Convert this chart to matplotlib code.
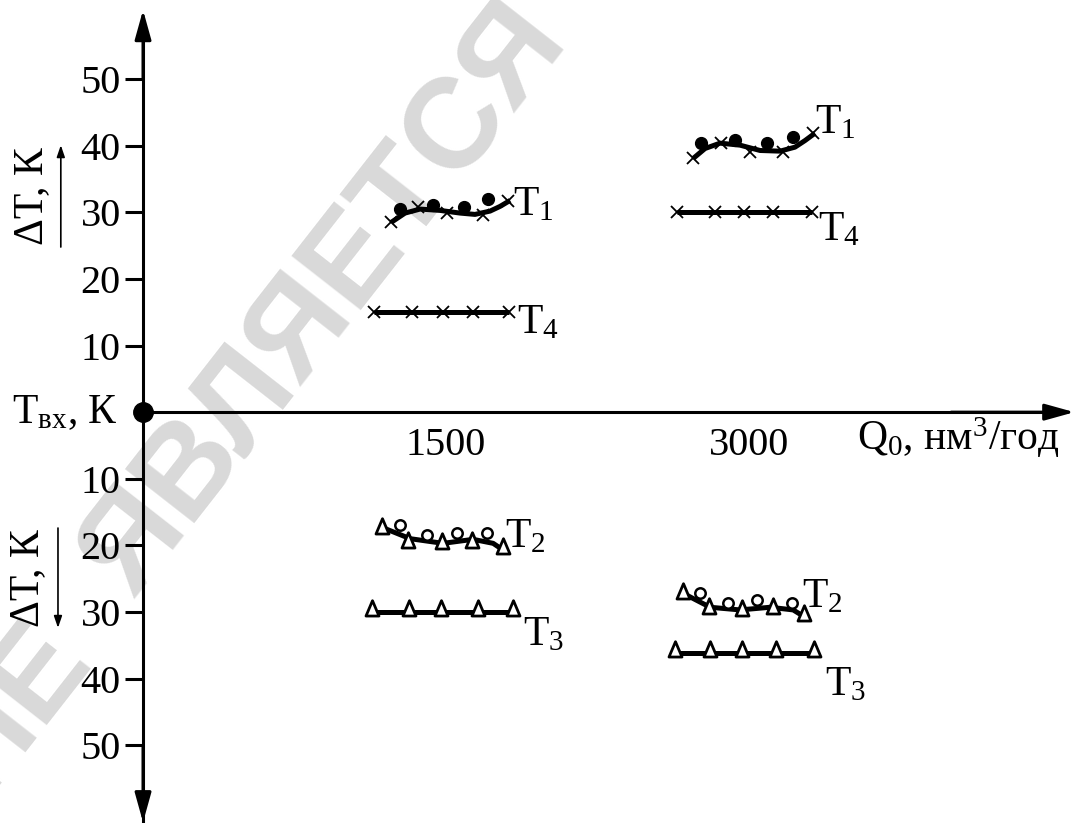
import numpy as np
import matplotlib.pyplot as plt
from matplotlib.path import Path

plt.rcParams['font.family'] = 'Liberation Serif'
plt.rcParams['mathtext.fontset'] = 'custom'
plt.rcParams['mathtext.rm'] = 'Liberation Serif'
plt.rcParams['mathtext.it'] = 'Liberation Serif'

# --- data (x = Q0, y = dT; lower half drawn as negative) ---
# T1 (upper), Q0 = 1500
t1a_cross_x = [1228, 1361, 1505, 1683, 1807]
t1a_cross_y = [28.6, 30.8, 29.9, 29.6, 31.7]
t1a_dot_x = [1272, 1436, 1589, 1708]
t1a_dot_y = [30.5, 31.1, 30.8, 32.0]
t1a_curve_x = [1228, 1297, 1371, 1470, 1569, 1643, 1718, 1767, 1817]
t1a_curve_y = [28.5, 29.9, 30.5, 30.3, 29.9, 29.7, 30.2, 30.9, 31.8]

# T1 (upper), Q0 = 3000
t1b_cross_x = [2723, 2861, 3005, 3168, 3317]
t1b_cross_y = [38.1, 40.4, 39.0, 39.0, 41.9]
t1b_dot_x = [2762, 2930, 3089, 3218]
t1b_dot_y = [40.4, 40.8, 40.4, 41.4]
t1b_curve_x = [2723, 2782, 2856, 2955, 3054, 3153, 3227, 3277, 3326]
t1b_curve_y = [38.1, 39.6, 40.4, 40.1, 39.3, 39.2, 39.8, 40.8, 41.9]

# T4 (upper)
t4a_x = [1143, 1332, 1485, 1634, 1812]
t4a_y = [15, 15, 15, 15, 15]
t4b_x = [2643, 2831, 2975, 3119, 3312]
t4b_y = [30, 30, 30, 30, 30]

# T2 (lower), Q0 = 1500
t2a_tri_x = [1183, 1312, 1480, 1629, 1782]
t2a_tri_y = [-17.7, -19.8, -19.9, -19.8, -20.7]
t2a_circ_x = [1272, 1406, 1554, 1703]
t2a_circ_y = [-17.0, -18.5, -18.2, -18.2]
t2a_curve_x = [1183, 1322, 1485, 1634, 1733, 1782]
t2a_curve_y = [-17.3, -19.0, -19.7, -19.1, -19.7, -20.7]

# T2 (lower), Q0 = 3000
t2b_tri_x = [2673, 2802, 2965, 3119, 3272]
t2b_tri_y = [-27.4, -29.7, -30.0, -29.7, -30.7]
t2b_circ_x = [2757, 2896, 3039, 3213]
t2b_circ_y = [-27.2, -28.7, -28.2, -28.7]
t2b_curve_x = [2673, 2807, 2955, 3104, 3218, 3277]
t2b_curve_y = [-27.2, -29.3, -29.7, -29.3, -29.7, -30.8]

# T3 (lower)
t3a_x = [1134, 1317, 1475, 1658, 1832]
t3a_y = [-30, -30, -30, -30, -30]
t3b_x = [2633, 2807, 2965, 3133, 3321]
t3b_y = [-36.2, -36.2, -36.2, -36.2, -36.2]

y_ticks = [-50, -40, -30, -20, -10, 10, 20, 30, 40, 50]
y_ticklabels = ['50', '40', '30', '20', '10', '10', '20', '30', '40', '50']
x_ticks = [1500, 3000]
x_ticklabels = ['1500', '3000']

fig = plt.figure(figsize=(10.75, 8.23), dpi=100)
ax = fig.add_axes([0, 0, 1, 1])
ax.patch.set_visible(False)
ax.set_xlim(-708, 4613)
ax.set_ylim(-61.7, 61.9)

# watermark
wm = dict(rotation=52, rotation_mode='anchor', ha='center', va='center', fontsize=92,
          fontweight='bold', color='#d9d9d9', family='Liberation Sans', zorder=-1)
fig.text(325 / 1075, 1 - 300 / 823, 'ЯВЛЯЕТСЯ', **wm)
fig.text(11 / 1075, 1 - 707 / 823, 'НЕ', **wm)

# axes through the origin
for s in ['top', 'right']:
    ax.spines[s].set_visible(False)
ax.spines['left'].set_position(('data', 0))
ax.spines['bottom'].set_position(('data', 0))
ax.spines['left'].set_linewidth(2.2)
ax.spines['bottom'].set_linewidth(2.2)
ax.spines['left'].set_bounds(-61.7, 59)
ax.spines['bottom'].set_bounds(0, 4560)

ax.set_yticks(y_ticks)
ax.set_yticklabels(y_ticklabels)
ax.tick_params(axis='y', direction='out', length=13, width=2.2, pad=3, labelsize=29)
ax.set_xticks(x_ticks)
ax.set_xticklabels(x_ticklabels)
ax.tick_params(axis='x', length=0, pad=11, labelsize=29)

head = '-|>,head_length=0.9,head_width=0.25'
ax.annotate('', xy=(0, 60.4), xytext=(0, 50),
            arrowprops=dict(arrowstyle=head, color='k', lw=2.2, mutation_scale=20, shrinkA=0, shrinkB=0))
ax.annotate('', xy=(0, -61.6), xytext=(0, -50),
            arrowprops=dict(arrowstyle=head, color='k', lw=2.2, mutation_scale=20, shrinkA=0, shrinkB=0))
ax.annotate('', xy=(4610, 0), xytext=(4000, 0),
            arrowprops=dict(arrowstyle=head, color='k', lw=2.2, mutation_scale=20, shrinkA=0, shrinkB=0))
ax.plot(0, 0, 'ko', ms=14, zorder=6, clip_on=False)

# open triangle, base slightly below the point so it sits on the line
tri = Path([(-0.55, -0.3), (0.55, -0.3), (0, 1), (-0.55, -0.3)],
           [Path.MOVETO, Path.LINETO, Path.LINETO, Path.CLOSEPOLY])

# curves
lw = 3.6
for cx, cy in [(t1a_curve_x, t1a_curve_y), (t1b_curve_x, t1b_curve_y),
               (t2a_curve_x, t2a_curve_y), (t2b_curve_x, t2b_curve_y),
               (t3a_x, t3a_y), (t3b_x, t3b_y), (t4a_x, t4a_y), (t4b_x, t4b_y)]:
    ax.plot(cx, cy, 'k-', lw=lw, solid_capstyle='butt', zorder=3)

for xs, ys in [(t1a_cross_x, t1a_cross_y), (t1b_cross_x, t1b_cross_y), (t4a_x, t4a_y), (t4b_x, t4b_y)]:
    ax.plot(xs, ys, 'kx', ms=8.5, mew=1.3, zorder=4)
for xs, ys in [(t1a_dot_x, t1a_dot_y), (t1b_dot_x, t1b_dot_y)]:
    ax.plot(xs, ys, 'ko', ms=8.5, zorder=4)
for xs, ys in [(t2a_tri_x, t2a_tri_y), (t2b_tri_x, t2b_tri_y), (t3a_x, t3a_y), (t3b_x, t3b_y)]:
    ax.plot(xs, ys, ls='none', marker=tri, ms=17, mfc='white', mec='k', mew=2.0, zorder=4)
for xs, ys in [(t2a_circ_x, t2a_circ_y), (t2b_circ_x, t2b_circ_y)]:
    ax.plot(xs, ys, 'o', ms=7.5, mfc='white', mec='k', mew=1.8, zorder=4)

# curve labels
fs = 30
for x, y, s in [(1832, 29.6, r'T$_1$'), (3326, 41.9, r'T$_1$'),
                (1851, 11.9, r'T$_4$'), (3341, 25.8, r'T$_4$'),
                (1792, -20.3, r'T$_2$'), (3262, -29.3, r'T$_2$'),
                (1881, -35.0, r'T$_3$'), (3376, -42.5, r'T$_3$')]:
    ax.text(x, y, s, fontsize=fs, ha='left', va='baseline')

ax.text(-124, -1.65, r'T$_{\mathrm{вх}}$, К', fontsize=fs, ha='right', va='baseline')
ax.text(3534, -5.7, r'Q$_0$, нм$^3$/год', fontsize=fs, ha='left', va='baseline')

# axis titles with direction arrows
ax.text(-549, 32.4, 'ΔT, К', rotation=90, fontsize=fs, ha='center', va='center')
ax.text(-568, -24.9, 'ΔT, К', rotation=90, fontsize=fs, ha='center', va='center')
small = '-|>,head_length=0.35,head_width=0.12'
ax.annotate('', xy=(-407, 40.1), xytext=(-407, 24.8),
            arrowprops=dict(arrowstyle=small, color='k', lw=1.2, mutation_scale=20, shrinkA=0, shrinkB=0))
ax.annotate('', xy=(-421, -32.4), xytext=(-421, -17.4),
            arrowprops=dict(arrowstyle=small, color='k', lw=1.2, mutation_scale=20, shrinkA=0, shrinkB=0))

fig.savefig('out.png', dpi=100)
